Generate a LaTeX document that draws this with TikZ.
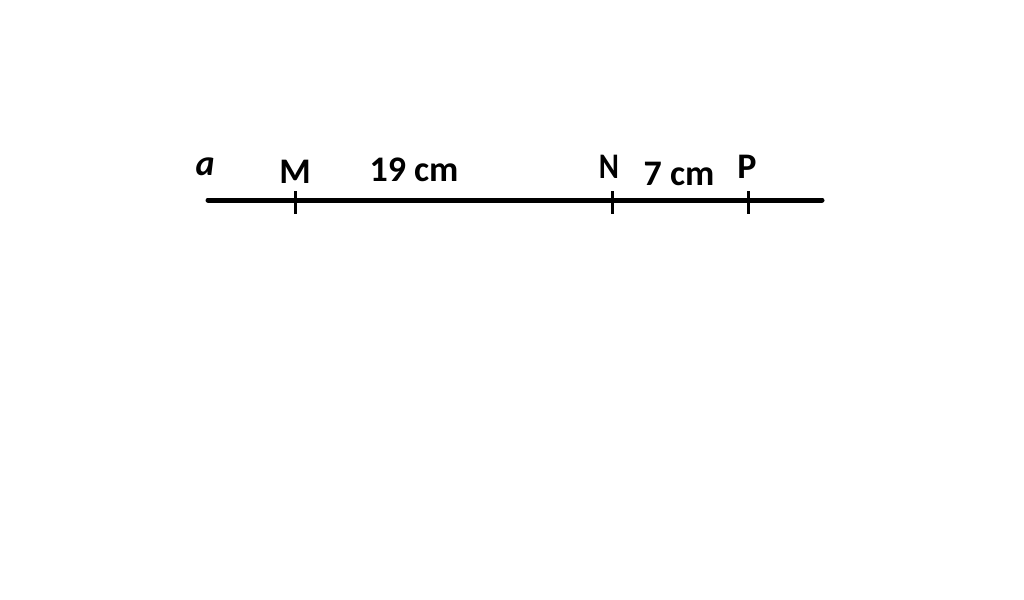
\documentclass[tikz,border=0pt]{standalone}
\usepackage{fontspec}
\setmainfont{Carlito}
\usetikzlibrary{calc}
\newcommand{\lblsize}{\fontsize{36}{40}\selectfont}
\newcommand{\prtick}[1]{\draw[line width=3pt] ($(#1)+(0,-9)$) -- ($(#1)+(0,14)$);}
\tikzset{lbl/.style={inner sep=0pt,font=\lblsize\bfseries}}

\begin{document}
\begin{tikzpicture}[x=1pt,y=-1pt]
    \useasboundingbox (0,0) rectangle (1024,599);

    \coordinate (A) at (208,200);
    \coordinate (B) at (822,200);
    \coordinate (M) at (295,200);
    \coordinate (N) at (612,200);
    \coordinate (P) at (748,200);

    \draw[line width=5pt,line cap=round] (A) -- (B);

    \prtick{M}
    \prtick{N}
    \prtick{P}

    \node[lbl] (la) at (205,167) {\itshape a};
    \node[lbl] (lM) at (295,172) {M};
    \node[lbl] (lMN) at (414,170) {19 cm};
    \node[lbl,xscale=0.85] (lN) at (609,167) {N};
    \node[lbl] (lNP) at (679,174) {7 cm};
    \node[lbl] (lP) at (747,167) {P};
\end{tikzpicture}
\end{document}
